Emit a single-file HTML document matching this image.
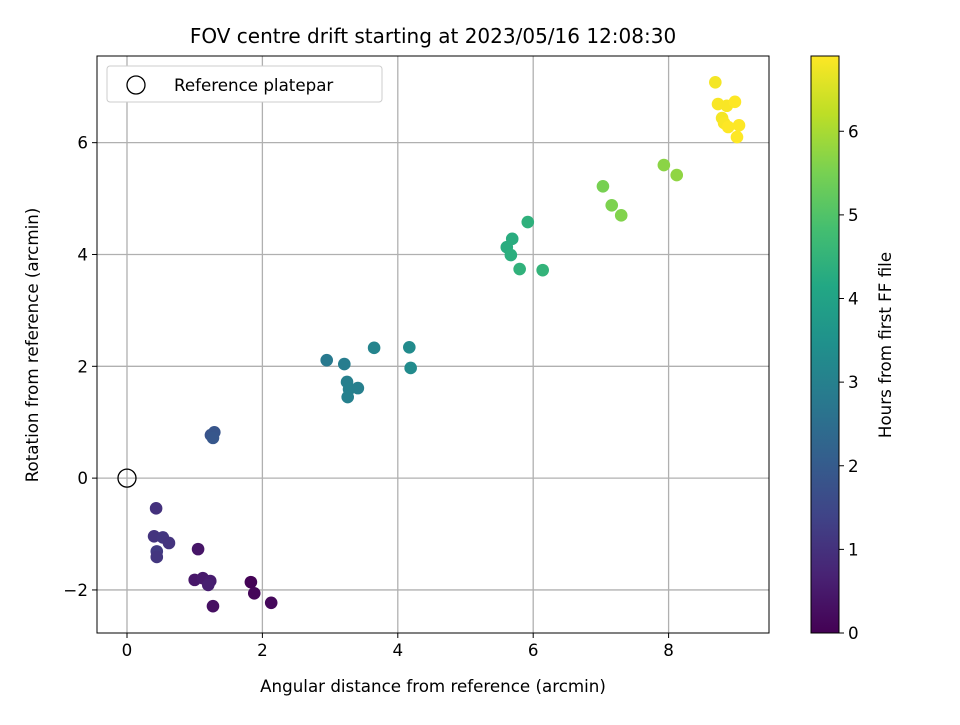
<!DOCTYPE html>
<html><head><meta charset="utf-8"><style>
body{margin:0;background:#fff;}
svg text{font-family:"DejaVu Sans","Liberation Sans",sans-serif;fill:#000;}
</style></head><body>
<svg id="chart" width="960" height="720" viewBox="0 0 960 720" xmlns="http://www.w3.org/2000/svg">
<defs><linearGradient id="vir" x1="0" y1="1" x2="0" y2="0"></linearGradient></defs>
<text x="433" y="43" font-size="20" text-anchor="middle">FOV centre drift starting at 2023/05/16 12:08:30</text>
<g id="grid"></g>
<g id="points"></g>
<rect x="97" y="56" width="672" height="577" fill="none" stroke="#000" stroke-width="1"/>
<g id="xticks"></g>
<g id="yticks"></g>
<text x="433" y="692" font-size="16.7" text-anchor="middle">Angular distance from reference (arcmin)</text>
<text transform="translate(38,345) rotate(-90)" font-size="16.7" text-anchor="middle">Rotation from reference (arcmin)</text>
<g>
<rect x="107" y="66" width="275" height="36" rx="3" fill="#fff" stroke="#ccc"/>
<circle cx="136" cy="85" r="9" fill="none" stroke="#000" stroke-width="1.3"/>
<text x="174" y="91" font-size="16.7">Reference platepar</text>
</g>
<rect x="811" y="56" width="28" height="577" fill="url(#vir)" stroke="#000"/>
<g id="cticks"></g>
<text transform="translate(891,345) rotate(-90)" font-size="16.7" text-anchor="middle">Hours from first FF file</text>
</svg>
<script>
const xs=[1.83,1.88,2.13,1.27, 1.05,1.00,1.12,1.23,1.20, 0.43,0.40,0.53,0.62,0.44,0.44, 1.24,1.29,1.27, 2.95,3.21,3.25,3.28,3.41,3.26,3.65,4.17,4.19, 5.61,5.69,5.67,5.92,5.80,6.14, 7.03,7.16,7.30,7.93,8.12, 8.69,8.73,8.86,8.98,8.79,8.82,8.88,9.04,9.01];
const ys=[-1.86,-2.06,-2.23,-2.29, -1.27,-1.82,-1.79,-1.84,-1.91, -0.54,-1.04,-1.06,-1.16,-1.31,-1.41, 0.77,0.82,0.72, 2.11,2.04,1.72,1.59,1.61,1.45,2.33,2.34,1.97, 4.13,4.28,3.99,4.58,3.74,3.72, 5.22,4.88,4.70,5.60,5.42, 7.08,6.69,6.66,6.73,6.44,6.35,6.28,6.31,6.10];
const hours=[0.05,0.1,0.15,0.3, 0.4,0.45,0.5,0.55,0.6, 1.0,1.05,1.1,1.05,1.2,1.1, 1.8,1.85,1.9, 2.8,2.9,2.95,3.0,2.95,3.0,3.1,3.3,3.3, 4.3,4.3,4.35,4.4,4.45,4.5, 5.5,5.55,5.6,5.7,5.75, 6.8,6.85,6.85,6.9,6.8,6.85,6.9,6.9,6.9];
const xTicks=[0,2,4,6,8];
const yTicks=[-2,0,2,4,6];
const cTicks=[0,1,2,3,4,5,6];
const xMin=-0.443,xMax=9.483,yMin=-2.77,yMax=7.55,hMax=6.9;
const L=97,R=769,T=56,B=633;
const sx=v=>L+(v-xMin)/(xMax-xMin)*(R-L);
const sy=v=>B-(v-yMin)/(yMax-yMin)*(B-T);
const sc=v=>B-v/hMax*(B-T);
const V=[[68,1,84],[72,35,116],[64,67,135],[52,94,141],[41,120,142],[32,144,140],[34,167,132],[68,190,112],[121,209,81],[189,222,38],[253,231,37]];
function vir(t){t=Math.max(0,Math.min(1,t))*(V.length-1);const i=Math.min(Math.floor(t),V.length-2),f=t-i;const c=V[i].map((a,k)=>Math.round(a+(V[i+1][k]-a)*f));return `rgb(${c})`;}
const NS="http://www.w3.org/2000/svg";
function mk(tag,attrs,parent){const e=document.createElementNS(NS,tag);for(const k in attrs)e.setAttribute(k,attrs[k]);parent.appendChild(e);return e;}
const grad=document.getElementById('vir');
V.forEach((c,i)=>{const s=mk('stop',{offset:i/(V.length-1),'stop-color':`rgb(${c})`},grad);

});
const grid=document.getElementById('grid'),xt=document.getElementById('xticks'),yt=document.getElementById('yticks'),ct=document.getElementById('cticks');
xTicks.forEach(v=>{const x=sx(v);
const g=mk('line',{x1:x,x2:x,y1:T,y2:B,stroke:'#b0b0b0','stroke-width':1.3},grid);


const t=mk('line',{x1:x,x2:x,y1:B,y2:B+5,stroke:'#000'},xt);


const l=mk('text',{x:x,y:B+23,'font-size':16.7,'text-anchor':'middle'},xt);l.textContent=v;

});
yTicks.forEach(v=>{const y=sy(v);
const g=mk('line',{x1:L,x2:R,y1:y,y2:y,stroke:'#b0b0b0','stroke-width':1.3},grid);


const t=mk('line',{x1:L-5,x2:L,y1:y,y2:y,stroke:'#000'},yt);


const l=mk('text',{x:L-9,y:y+6,'font-size':16.7,'text-anchor':'end'},yt);l.textContent=v<0?'\u2212'+(-v):v;

});
cTicks.forEach(v=>{const y=sc(v);
const t=mk('line',{x1:839,x2:844,y1:y,y2:y,stroke:'#000'},ct);


const l=mk('text',{x:848,y:y+6,'font-size':16.7},ct);l.textContent=v;

});
const pts=document.getElementById('points');
xs.forEach((x,i)=>{const c=mk('circle',{cx:sx(x),cy:sy(ys[i]),r:6.3,fill:vir(hours[i]/hMax)},pts);

});
const ref=mk('circle',{cx:sx(0),cy:sy(0),r:9,fill:'none',stroke:'#000','stroke-width':1.3},pts);


</script>
</body></html>
